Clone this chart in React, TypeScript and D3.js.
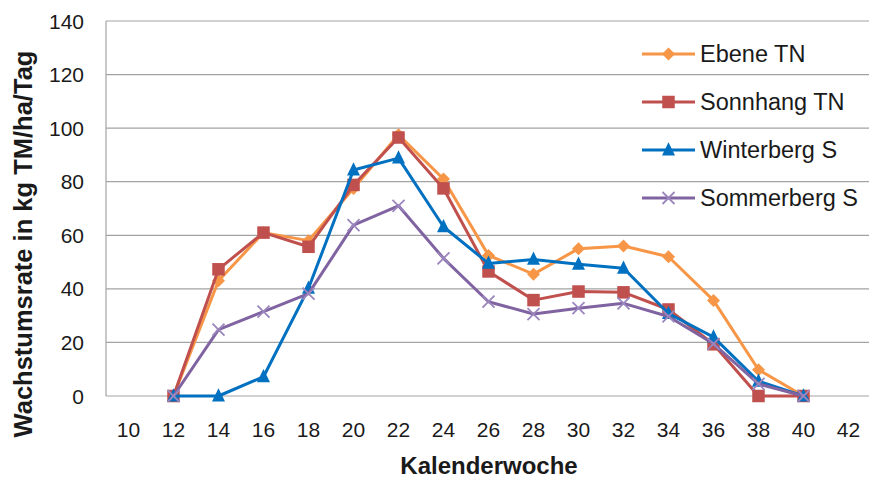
import React from "react";
import * as d3 from "d3";

const categories = ["10","12","14","16","18","20","22","24","26","28","30","32","34","36","38","40","42"];
const seriesWeeks = ["12","14","16","18","20","22","24","26","28","30","32","34","36","38","40"];
const ebeneTN = [0, 43, 61, 58, 77.5, 97.5, 81, 52.5, 45.5, 55, 56, 52, 35.7, 9.8, 0];
const sonnhangTN = [0, 47.3, 61, 55.7, 78.8, 96.5, 77.5, 46.5, 35.8, 39, 38.7, 32.3, 19.3, 0, 0];
const winterbergS = [0, 0, 7.2, 40.2, 84.4, 88.8, 63.2, 49.5, 51, 49.2, 47.7, 30.8, 22, 5.5, 0];
const sommerbergS = [0, 24.8, 31.5, 38.2, 63.8, 71, 51.4, 35.2, 30.6, 32.8, 34.6, 29.7, 19.5, 4.5, 0];
const seriesNames = ["Ebene TN", "Sonnhang TN", "Winterberg S", "Sommerberg S"];
const yTicks = [0, 20, 40, 60, 80, 100, 120, 140];

const W = 869, H = 481;
const plot = { left: 106, right: 871, top: 21, bottom: 396 };
const FONT = "'Liberation Sans', Arial, sans-serif";

type Marker = "diamond" | "square" | "triangle" | "x";
const styles: { color: string; marker: Marker }[] = [
  { color: "#F79646", marker: "diamond" },
  { color: "#C0504D", marker: "square" },
  { color: "#0070C0", marker: "triangle" },
  { color: "#8064A2", marker: "x" },
];

function MarkerShape({ type, color, cx, cy }: { type: Marker; color: string; cx: number; cy: number }) {
  if (type === "diamond") {
    const r = 6.5;
    return <path d={`M${cx},${cy - r}L${cx + r},${cy}L${cx},${cy + r}L${cx - r},${cy}Z`} fill={color} />;
  }
  if (type === "square") {
    const s = 12.5;
    return <rect x={cx - s / 2} y={cy - s / 2} width={s} height={s} fill={color} />;
  }
  if (type === "triangle") {
    const s = 13;
    return <path d={`M${cx},${cy - s * 0.6}L${cx + s / 2},${cy + s * 0.42}L${cx - s / 2},${cy + s * 0.42}Z`} fill={color} />;
  }
  const r = 6;
  return (
    <path
      d={`M${cx - r},${cy - r}L${cx + r},${cy + r}M${cx - r},${cy + r}L${cx + r},${cy - r}`}
      stroke="#9b86bd"
      strokeWidth={1.8}
      fill="none"
    />
  );
}

export default function App() {
  const x = d3.scaleBand<string>().domain(categories).range([plot.left, plot.right]);
  const cx = (c: string) => (x(c) as number) + x.bandwidth() / 2;
  const y = d3.scaleLinear().domain([0, 140]).range([plot.bottom, plot.top]);
  const data = [ebeneTN, sonnhangTN, winterbergS, sommerbergS];
  const line = d3
    .line<number>()
    .x((_, i) => cx(seriesWeeks[i]))
    .y((v) => y(v));

  const legendY = [54, 102, 150, 198];

  return (
    <svg width={W} height={H} style={{ position: "absolute", left: 0, top: 0, background: "#fff" }}>
      <rect x={0} y={0} width={W} height={H} fill="#fff" />
      {yTicks.map((t) => (
        <line key={t} x1={plot.left} x2={W} y1={y(t)} y2={y(t)} stroke="#a3a3a3" strokeWidth={1.2} />
      ))}
      <line x1={plot.left} x2={plot.left} y1={plot.top} y2={plot.bottom} stroke="#a3a3a3" strokeWidth={1.2} />
      {yTicks.map((t) => (
        <text key={t} x={84} y={y(t)} dy="0.36em" textAnchor="end" fontFamily={FONT} fontSize={21} fill="#1a1a1a">
          {t}
        </text>
      ))}
      {categories.map((c) => (
        <text key={c} x={cx(c)} y={437} textAnchor="middle" fontFamily={FONT} fontSize={21} fill="#1a1a1a">
          {c}
        </text>
      ))}
      <text x={489} y={474} textAnchor="middle" fontFamily={FONT} fontSize={24} fontWeight="bold" fill="#1a1a1a">
        Kalenderwoche
      </text>
      <text
        transform={`translate(32,${244}) rotate(-90)`}
        textAnchor="middle"
        fontFamily={FONT}
        fontSize={25.5}
        fontWeight="bold"
        fill="#1a1a1a"
      >
        Wachstumsrate in kg TM/ha/Tag
      </text>
      {data.map((vals, si) => (
        <g key={si}>
          <path d={line(vals) || ""} fill="none" stroke={styles[si].color} strokeWidth={3} strokeLinejoin="round" />
          {vals.map((v, i) => (
            <MarkerShape key={i} type={styles[si].marker} color={styles[si].color} cx={cx(seriesWeeks[i])} cy={y(v)} />
          ))}
        </g>
      ))}
      {seriesNames.map((n, i) => (
        <g key={n}>
          <line x1={642} x2={695} y1={legendY[i]} y2={legendY[i]} stroke={styles[i].color} strokeWidth={3} />
          <MarkerShape type={styles[i].marker} color={styles[i].color} cx={668.5} cy={legendY[i]} />
          <text x={700} y={legendY[i]} dy="0.36em" fontFamily={FONT} fontSize={23.5} fill="#1a1a1a">
            {n}
          </text>
        </g>
      ))}
    </svg>
  );
}
